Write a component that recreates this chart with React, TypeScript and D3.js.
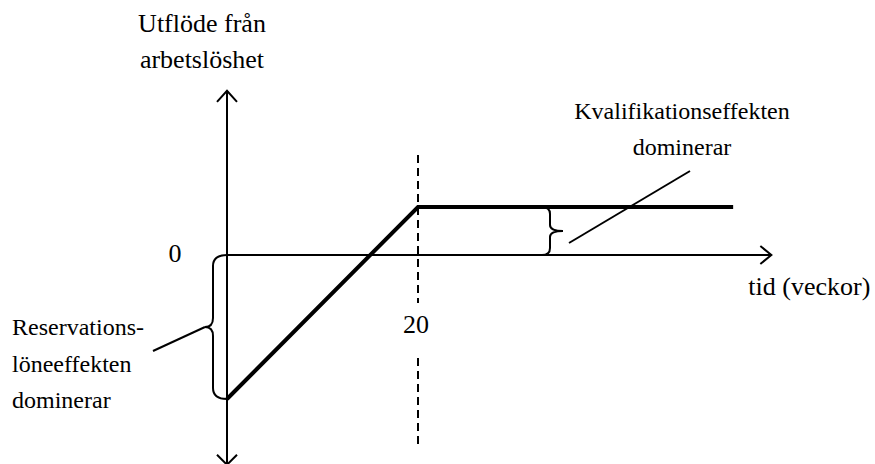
import { scaleLinear, line } from 'd3';

const width = 875;
const height = 464;

// veckor (weeks) and the outflow level
const weeks = [0, 20, 53];
const outflow = [-3, 1, 1];
const xTicks = [20];
const axisLimits = { xMax: 57, yMin: -4.37, yMax: 3.42 };

const titleLines = ['Utflöde från', 'arbetslöshet'];
const xTitle = 'tid (veckor)';
const leftNote = ['Reservations-', 'löneeffekten', 'dominerar'];
const rightNote = ['Kvalifikationseffekten', 'dominerar'];

const x = scaleLinear().domain([0, 20]).range([227, 418]);
const y = scaleLinear().domain([0, 1]).range([255, 207]);

const font = '"Liberation Serif", "Times New Roman", serif';

const App = () => {
  const pathLine = line<number>()
    .x((_, i) => x(weeks[i]))
    .y((d) => y(d));

  const x0 = x(0);
  const y0 = y(0);
  const xEnd = x(axisLimits.xMax);
  const yTop = y(axisLimits.yMax);
  const yBot = y(axisLimits.yMin);
  const yLow = y(outflow[0]);
  const yHigh = y(outflow[1]);
  const x20 = x(20);

  // left brace between 0 and the starting level
  const lb = 213;
  const lMid = (y0 + yLow) / 2;
  const leftBrace = `M ${x0} ${y0} Q ${lb} ${y0} ${lb} ${y0 + 11} L ${lb} ${lMid - 9} Q ${lb} ${lMid} ${lb - 8} ${lMid} Q ${lb} ${lMid} ${lb} ${lMid + 9} L ${lb} ${yLow - 11} Q ${lb} ${yLow} ${x0} ${yLow}`;

  // right brace between 0 and the plateau
  const rb = 550;
  const rMid = (y0 + yHigh) / 2;
  const rightBrace = `M ${rb - 8} ${yHigh} Q ${rb} ${yHigh} ${rb} ${yHigh + 7} L ${rb} ${rMid - 6} Q ${rb} ${rMid} ${rb + 13} ${rMid} Q ${rb} ${rMid} ${rb} ${rMid + 6} L ${rb} ${y0 - 7} Q ${rb} ${y0} ${rb - 8} ${y0}`;

  return (
    <svg width={width} height={height} style={{ position: 'absolute', left: 0, top: 0, background: '#fff' }}>
      <g fontFamily={font} fill="#000">
        {titleLines.map((t, i) => (
          <text key={t} x={202} y={32 + i * 36} fontSize={26} textAnchor="middle">{t}</text>
        ))}
        <text x={xEnd - 23} y={295} fontSize={26}>{xTitle}</text>
        <text x={x0 - 52} y={262} fontSize={26} textAnchor="middle">0</text>
        {xTicks.map((t) => (
          <text key={t} x={x(t) - 2} y={333} fontSize={26} textAnchor="middle">{t}</text>
        ))}
        {leftNote.map((t, i) => (
          <text key={t} x={12} y={335 + i * 36.5} fontSize={24}>{t}</text>
        ))}
        {rightNote.map((t, i) => (
          <text key={t} x={682} y={119 + i * 36} fontSize={24} textAnchor="middle">{t}</text>
        ))}
      </g>

      <g stroke="#000" fill="none" strokeWidth={2}>
        {/* axes */}
        <line x1={x0} y1={yTop} x2={x0} y2={yBot} />
        <line x1={x0} y1={y0} x2={xEnd} y2={y0} />
        <polyline points={`${x0 - 10},${yTop + 11} ${x0},${yTop} ${x0 + 10},${yTop + 11}`} />
        <polyline points={`${x0 - 10},${yBot - 10} ${x0},${yBot} ${x0 + 10},${yBot - 10}`} />
        <polyline points={`${xEnd - 11},${y0 - 9} ${xEnd},${y0} ${xEnd - 11},${y0 + 9}`} />

        {/* dashed line at week 20, broken around the label */}
        <line x1={x20} y1={155} x2={x20} y2={303} strokeDasharray="8,5" />
        <line x1={x20} y1={358} x2={x20} y2={446} strokeDasharray="8,5" />

        {/* braces and leaders */}
        <path d={leftBrace} />
        <path d={rightBrace} />
        <line x1={153} y1={351} x2={lb - 8} y2={lMid} />
        <line x1={569} y1={243} x2={690} y2={171} />

        {/* outflow path */}
        <path d={pathLine(outflow) ?? ''} strokeWidth={4} strokeLinejoin="miter" />
      </g>
    </svg>
  );
};

export default App;
